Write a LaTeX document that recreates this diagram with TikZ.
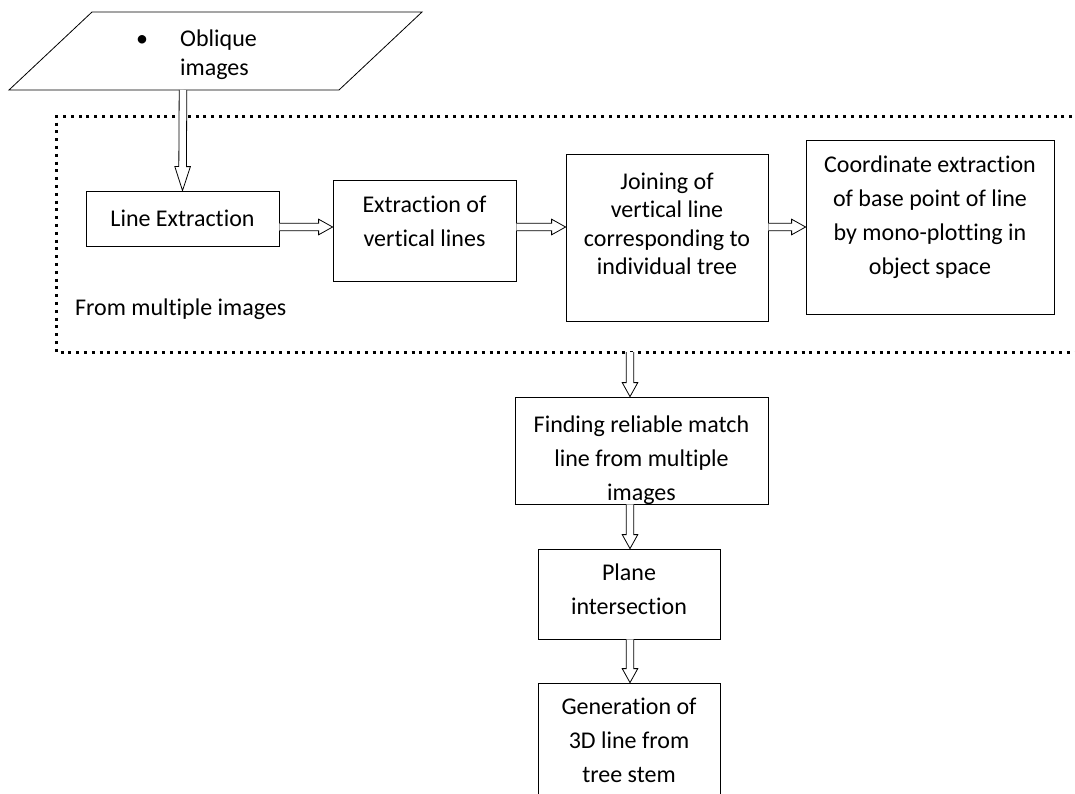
\documentclass[tikz,border=0pt]{standalone}
\usepackage{fontspec}
\setmainfont{Carlito}[Ligatures=NoCommon]
\usetikzlibrary{calc}
\newcommand{\liftup}[2]{\raisebox{#1}[\height][\depth]{\begin{tabular}{@{}c@{}}#2\end{tabular}}}

\begin{document}
\begin{tikzpicture}[x=1pt, y=-1pt,
		box/.style={draw, line width=0.8pt, align=center, inner sep=2pt, font=\fontsize{24}{34}\selectfont},
		grpframe/.style={line width=3pt, dash pattern=on 3pt off 4.8pt},
		hollow/.style={line width=0.8pt, fill=white, to path={
				($(\tikztostart)!3.8pt!90:(\tikztotarget)$)
				-- ($($(\tikztotarget)!#1!(\tikztostart)$)!3.8pt!90:(\tikztotarget)$)
				-- ($($(\tikztotarget)!#1!(\tikztostart)$)!7.8pt!90:(\tikztotarget)$)
				-- (\tikztotarget)
				-- ($($(\tikztotarget)!#1!(\tikztostart)$)!7.8pt!-90:(\tikztotarget)$)
				-- ($($(\tikztotarget)!#1!(\tikztostart)$)!3.8pt!-90:(\tikztotarget)$)
				-- ($(\tikztostart)!3.8pt!-90:(\tikztotarget)$) \tikztonodes}},
		hollow/.default=14pt,
	]
	\useasboundingbox (0,0) rectangle (1075,794);

	% input images
	\draw[line width=0.8pt] (9,90) -- (92,12) -- (422,12) -- (339,90) -- cycle;
	\node[anchor=west, inner sep=0pt, align=left, font=\fontsize{24}{29}\selectfont] (oblique) at (136,55)
		{\makebox[44pt][l]{\textbullet}Oblique\\\hspace*{44pt}images};
	\coordinate (srcbot) at (183,90);

	% per-image steps
	\draw[grpframe] (1080,117) -- (56,117) -- (56,352) -- (1080,352);
	\node[anchor=west, inner sep=0pt, font=\fontsize{24}{34}\selectfont] (grplabel) at (75,309) {From multiple images};
	\coordinate (grpbot) at (630,352);

	\node[box, minimum width=193pt, minimum height=55pt] (lineext) at (182.5,218.5) {Line Extraction};
	\node[box, minimum width=183pt, minimum height=101pt] (vertext) at (424.5,230.5)
		{\liftup{8pt}{Extraction of\\vertical lines}};
	\node[box, minimum width=202pt, minimum height=167pt, font=\fontsize{24}{28.5}\selectfont] (joinline) at (667,237.5)
		{\liftup{11pt}{Joining of\\vertical line\\corresponding to\\individual tree}};
	\node[box, minimum width=248pt, minimum height=174pt] (coordext) at (930,227)
		{\liftup{10pt}{Coordinate extraction\\of base point of line\\by mono-plotting in\\object space}};

	% matching and 3D
	\node[box, minimum width=253pt, minimum height=107pt] (findmatch) at (641.5,450.5)
		{\liftup{-9pt}{Finding reliable match\\line from multiple\\images}};
	\node[box, minimum width=182pt, minimum height=90pt] (planeint) at (629,594)
		{\liftup{3pt}{Plane\\intersection}};
	\node[box, minimum width=182pt, minimum height=124pt] (gen3d) at (629,745)
		{\liftup{3pt}{Generation of\\3D line from\\tree stem}};

	\draw[hollow=24pt] (srcbot) to (lineext.north);
	\draw[hollow] (lineext.east |- coordext.west) to (vertext.west |- coordext.west);
	\draw[hollow] (vertext.east |- coordext.west) to (joinline.west |- coordext.west);
	\draw[hollow] (joinline.east |- coordext.west) to (coordext.west);
	\draw[hollow] (grpbot) to (grpbot |- findmatch.north);
	\draw[hollow] (grpbot |- findmatch.south) to (grpbot |- planeint.north);
	\draw[hollow] (grpbot |- planeint.south) to (grpbot |- gen3d.north);
\end{tikzpicture}
\end{document}
